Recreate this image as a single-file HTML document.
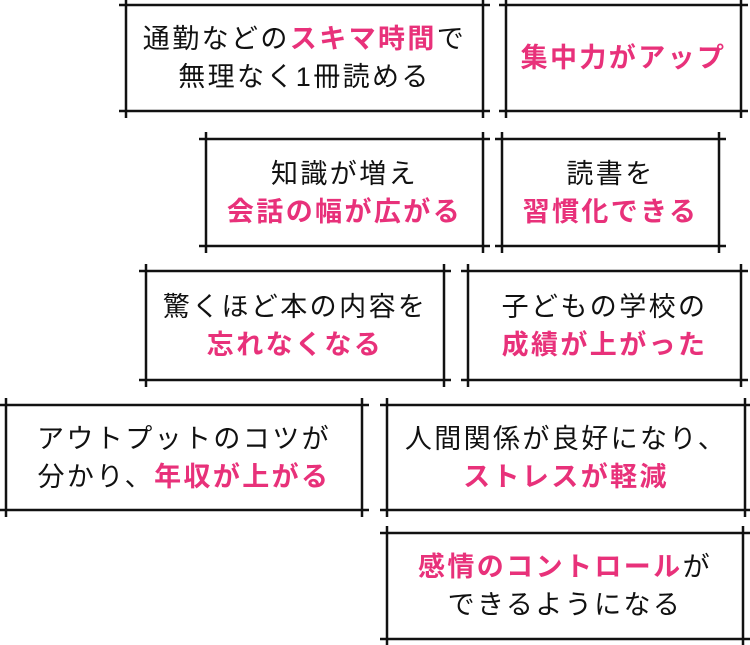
<!DOCTYPE html>
<html><head><meta charset="utf-8"><style>
html,body{margin:0;padding:0;background:#fff;}
body{width:750px;height:645px;position:relative;overflow:hidden;font-family:"Liberation Sans","Noto Sans CJK JP",sans-serif;}
svg{position:absolute;left:0;top:0;}
.t{position:absolute;display:flex;flex-direction:column;align-items:center;justify-content:center;text-align:center;font-size:27px;line-height:38px;color:#111;letter-spacing:2.4px;white-space:nowrap;}
.p{color:#e8317a;font-weight:bold;}
</style></head><body>
<svg width="750" height="645" stroke="#111" stroke-width="2.5">
<g id="lines"></g>
</svg>
<script>
var boxes=[[126,5,483,111],[506,5,741,111],[206,139,483,246],[502,139,719,246],[146,271,444,380],[468,271,741,380],[6,405,362,510],[387,405,745,510],[387,533,743,639]];
var g=document.getElementById('lines'),s='';
boxes.forEach(function(b){var e=7;
s+='<line x1="'+(b[0]-e)+'" y1="'+b[1]+'" x2="'+(b[2]+e)+'" y2="'+b[1]+'"/>';
s+='<line x1="'+(b[0]-e)+'" y1="'+b[3]+'" x2="'+(b[2]+e)+'" y2="'+b[3]+'"/>';
s+='<line x1="'+b[0]+'" y1="'+(b[1]-e)+'" x2="'+b[0]+'" y2="'+(b[3]+e)+'"/>';
s+='<line x1="'+b[2]+'" y1="'+(b[1]-e)+'" x2="'+b[2]+'" y2="'+(b[3]+e)+'"/>';});
g.innerHTML=s;
</script>
<div class="t" style="left:126px;top:5px;width:357px;height:106px"><div>通勤などの<span class="p">スキマ時間</span>で</div><div>無理なく1冊読める</div></div>
<div class="t" style="left:506px;top:5px;width:235px;height:106px"><div class="p">集中力がアップ</div></div>
<div class="t" style="left:206px;top:139px;width:277px;height:107px"><div>知識が増え</div><div class="p">会話の幅が広がる</div></div>
<div class="t" style="left:502px;top:139px;width:217px;height:107px"><div>読書を</div><div class="p">習慣化できる</div></div>
<div class="t" style="left:146px;top:271px;width:298px;height:109px"><div>驚くほど本の内容を</div><div class="p">忘れなくなる</div></div>
<div class="t" style="left:468px;top:271px;width:273px;height:109px"><div>子どもの学校の</div><div class="p">成績が上がった</div></div>
<div class="t" style="left:6px;top:405px;width:356px;height:105px"><div>アウトプットのコツが</div><div>分かり、<span class="p">年収が上がる</span></div></div>
<div class="t" style="left:387px;top:405px;width:358px;height:105px"><div>人間関係が良好になり、</div><div class="p">ストレスが軽減</div></div>
<div class="t" style="left:387px;top:533px;width:356px;height:106px"><div><span class="p">感情のコントロール</span>が</div><div>できるようになる</div></div>
</body></html>
